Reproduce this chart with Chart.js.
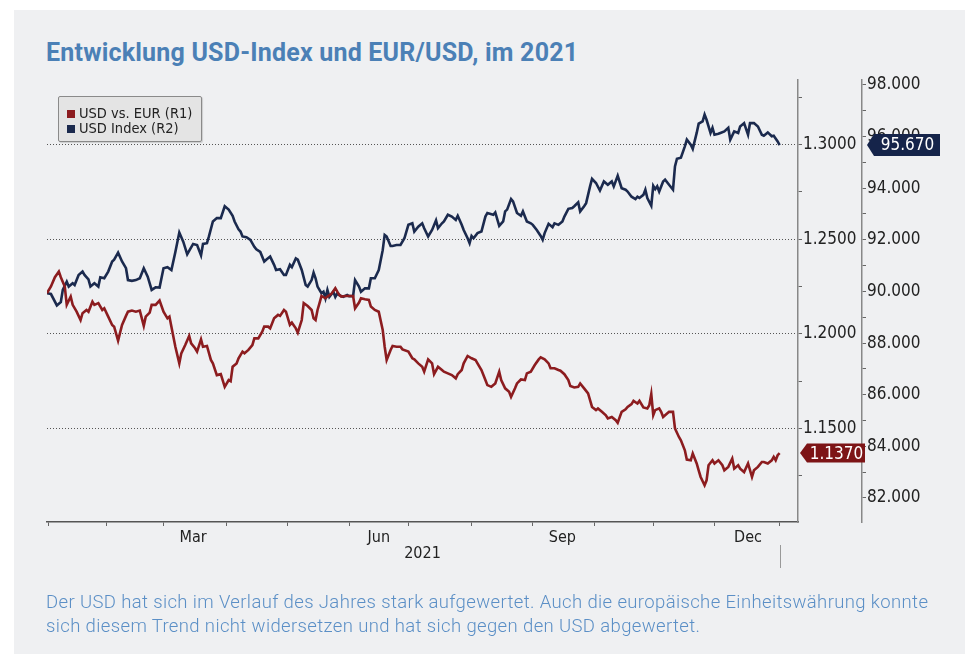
<!DOCTYPE html>
<html>
<head>
<meta charset="utf-8">
<script src="https://cdn.jsdelivr.net/npm/chart.js@4.4.1/dist/chart.umd.min.js"></script>
<style>
html, body { margin: 0; padding: 0; background: #fff; }
body { width: 965px; height: 654px; position: relative; overflow: hidden; }
.panel { position: absolute; left: 14px; top: 10px; right: 0; bottom: 0; background: #eff0f2; }
#chart { position: absolute; left: 0; top: 0; }
.title { position: absolute; left: 46px; top: 40px; font: bold 25px/25px Roboto, sans-serif; letter-spacing: 0.2px; color: #4b80b6; white-space: nowrap; }
.note { position: absolute; left: 46px; top: 590px; font: 300 18.5px/24px Roboto, sans-serif; letter-spacing: 0.37px; color: #5b8fc6; white-space: nowrap; }
.legend { position: absolute; left: 58px; top: 96px; width: 142px; height: 44px; background: #e4e4e4; border: 1px solid #8a8a8a; border-radius: 2px; box-shadow: 1px 1px 1px rgba(0,0,0,0.15); font: 14.5px/16px "DejaVu Sans Condensed", "DejaVu Sans", sans-serif; color: #222; }
.legend div { position: absolute; left: 8px; white-space: nowrap; }
.legend i { display: inline-block; width: 8px; height: 8px; margin-right: 4px; vertical-align: 0px; }
</style>
</head>
<body>
<div class="panel"></div>
<div class="title">Entwicklung USD-Index und EUR/USD, im 2021</div>
<canvas id="chart" width="965" height="654"></canvas>
<div class="legend">
  <div style="top:8px"><i style="background:#8c1c1f"></i>USD vs. EUR (R1)</div>
  <div style="top:23px"><i style="background:#1b2a4e"></i>USD Index (R2)</div>
</div>
<div class="note">Der USD hat sich im Verlauf des Jahres stark aufgewertet. Auch die europäische Einheitswährung konnte<br>sich diesem Trend nicht widersetzen und hat sich gegen den USD abgewertet.</div>
<script>
// x position = days on the chart's time axis
// --- USD vs. EUR (R1) ---
const eurDay = [0,2,4,6,7,9,10,12,13,15,17,18,20,21,23,24,26,28,29,31,33,34,36,38,40,41,43,45,47,49,50,52,53,55,57,59,61,62,63,65,67,68,70,72,73,75,76,78,79,81,83,84,86,88,90,92,93,94,96,97,99,100,102,104,105,107,109,110,112,113,115,117,118,120,121,123,124,126,127,129,130,132,134,135,136,137,138,139,141,142,144,146,147,148,149,151,153,155,156,158,159,161,163,164,166,168,170,171,172,174,175,177,179,180,183,185,186,188,190,191,193,195,196,198,200,201,203,205,207,208,210,211,213,215,217,218,220,222,223,225,227,229,230,232,234,235,237,238,240,242,243,245,247,249,250,252,254,255,257,259,260,262,264,265,267,269,270,272,274,275,276,278,279,281,283,284,286,288,289,291,293,294,296,297,299,300,302,304,305,306,307,308,310,311,312,314,315,317,318,320,321,323,324,326,327,329,330,331,333,334,335,337,338,340,342,343,345,347,348,350,351,353,355,357,358,360,362,363,365,367,368,369,370,371];
const eurUsd = [1.2215,1.2250,1.2299,1.2329,1.2299,1.2250,1.2153,1.2197,1.2153,1.2117,1.2073,1.2109,1.2126,1.2117,1.2170,1.2153,1.2162,1.2126,1.2135,1.2091,
  1.2047,1.2038,1.1964,1.2047,1.2095,1.2117,1.2123,1.2117,1.2123,1.2042,1.2091,1.2112,1.2153,1.2153,1.2176,1.2117,1.2082,1.2091,1.2038,1.1932,
  1.1844,1.1897,1.1941,1.1989,1.1950,1.1924,1.1906,1.1971,1.1932,1.1936,1.1862,1.1844,1.1782,1.1787,1.1720,1.1756,1.1750,1.1826,1.1844,1.1871,
  1.1906,1.1897,1.1915,1.1941,1.1976,1.1976,1.2011,1.2038,1.2038,1.2029,1.2082,1.2100,1.2095,1.2126,1.2117,1.2047,1.2059,1.2029,1.2006,1.2073,
  1.2162,1.2147,1.2126,1.2082,1.2073,1.2126,1.2162,1.2200,1.2188,1.2197,1.2211,1.2241,1.2223,1.2206,1.2197,1.2200,1.2200,1.2200,1.2135,1.2165,
  1.2188,1.2183,1.2179,1.2144,1.2126,1.2117,1.2020,1.1932,1.1862,1.1915,1.1936,1.1932,1.1932,1.1918,1.1906,1.1871,1.1865,1.1844,1.1826,1.1800,
  1.1865,1.1844,1.1787,1.1826,1.1809,1.1800,1.1791,1.1782,1.1765,1.1787,1.1809,1.1844,1.1883,1.1871,1.1862,1.1844,1.1809,1.1756,1.1729,1.1720,
  1.1738,1.1800,1.1756,1.1712,1.1694,1.1667,1.1712,1.1738,1.1759,1.1756,1.1791,1.1800,1.1835,1.1865,1.1876,1.1865,1.1844,1.1818,1.1818,1.1809,
  1.1805,1.1787,1.1756,1.1724,1.1717,1.1720,1.1738,1.1712,1.1685,1.1650,1.1614,1.1597,1.1606,1.1588,1.1570,1.1553,1.1561,1.1544,1.1530,1.1588,
  1.1601,1.1614,1.1629,1.1646,1.1632,1.1646,1.1611,1.1606,1.1623,1.1682,1.1570,1.1597,1.1606,1.1588,1.1561,1.1579,1.1588,1.1588,1.1500,1.1455,
  1.1438,1.1385,1.1336,1.1332,1.1368,1.1315,1.1279,1.1244,1.1200,1.1226,1.1306,1.1332,1.1315,1.1332,1.1306,1.1279,1.1297,1.1341,1.1288,1.1306,
  1.1288,1.1270,1.1315,1.1244,1.1279,1.1297,1.1323,1.1323,1.1315,1.1332,1.1350,1.1332,1.1359,1.1370];

// --- USD Index (R2) ---
const dxyDay = [0,2,5,7,8,10,11,13,14,16,18,19,21,22,24,26,27,29,31,33,34,36,38,40,41,43,45,47,49,51,53,55,57,59,61,63,65,67,69,71,74,76,78,79,81,82,84,86,88,90,92,94,95,97,98,99,101,103,105,106,108,110,111,113,115,116,118,120,121,123,124,126,127,129,131,132,134,135,136,137,139,140,141,142,143,145,146,147,148,150,152,153,155,156,158,159,161,163,164,166,168,170,171,172,174,175,177,179,181,183,185,186,188,190,191,193,195,197,198,200,201,203,205,207,208,210,211,213,214,215,216,218,220,222,223,226,227,229,231,232,233,235,236,238,240,241,243,245,246,248,250,251,252,254,256,257,259,261,262,264,266,267,269,270,272,273,275,276,278,280,282,284,286,287,289,291,293,294,296,298,299,300,302,303,304,306,307,308,309,310,312,313,315,317,318,319,321,323,324,326,327,329,330,332,333,334,336,337,338,340,341,343,345,346,348,350,351,353,355,356,358,360,362,363,365,367,368,370,371];
const dxyIdx = [89.93,89.90,89.46,89.59,90.06,90.38,90.19,90.32,90.25,90.64,90.77,90.64,90.47,90.19,90.32,90.19,90.55,90.51,90.77,91.16,
  91.23,91.50,91.16,90.90,90.44,90.41,90.44,90.51,90.90,90.57,90.06,90.16,90.15,90.90,90.94,90.83,91.53,92.28,91.93,91.44,
  91.84,91.80,91.40,91.84,91.87,92.13,92.71,92.84,92.84,93.30,93.17,92.93,92.71,92.41,92.32,92.13,92.10,92.00,91.73,91.63,
  91.53,91.16,91.23,91.35,91.03,90.83,90.86,90.64,90.64,91.03,90.94,91.28,91.23,90.83,90.25,90.19,90.44,90.73,90.51,90.19,
  89.93,89.99,89.73,90.06,89.79,89.99,89.79,89.93,89.86,89.79,89.86,89.82,89.82,90.44,90.19,89.99,90.12,90.12,90.51,90.51,
  90.83,91.60,92.19,92.13,91.76,91.76,91.80,91.80,92.06,92.58,92.64,92.32,92.51,92.64,92.45,92.13,92.38,92.75,92.45,92.64,
  92.71,92.97,92.90,92.77,92.93,92.58,92.38,92.06,91.87,92.15,92.06,92.26,92.32,92.90,93.04,92.97,93.06,92.54,92.71,93.10,
  93.17,93.58,93.49,93.04,92.93,93.10,92.71,92.64,92.58,92.38,92.15,92.00,92.26,92.62,92.49,92.64,92.58,92.71,92.90,93.20,
  93.23,93.30,93.45,93.10,93.30,93.42,94.07,94.36,94.20,93.91,94.26,94.13,94.26,94.07,94.48,94.00,93.94,93.87,93.67,93.58,
  93.67,93.62,93.74,93.94,93.62,93.32,94.09,93.96,94.07,93.87,94.26,94.33,94.13,93.94,94.84,95.14,95.18,95.62,95.88,95.68,
  95.52,96.14,96.50,96.59,96.85,96.65,96.14,96.34,96.07,96.11,96.14,96.20,96.34,95.88,96.20,96.14,96.39,96.52,96.07,96.52,
  96.52,96.39,96.07,96.03,96.16,96.01,96.03,95.81,95.67];

// axis ticks (same day units)
const monthTicks = [1, 30, 59, 91, 122, 153, 183, 215, 246, 277, 307, 338, 371];
const monthLabelDays = [74, 168, 261, 355];
const monthLabels = ['Mar', 'Jun', 'Sep', 'Dec'];
const xTicks = monthTicks.concat(monthLabelDays).sort((a, b) => a - b);

const RED = '#8c1c1f';
const NAVY = '#1b2a4e';
const axisFont = { family: '"DejaVu Sans Condensed", "DejaVu Sans", sans-serif', size: 17 };

const isMajor = (v, step) => Math.abs(v / step - Math.round(v / step)) < 1e-6;

// last value flags + end marker under the x axis
const lastFlags = {
    id: 'lastFlags',
    afterDraw(chart) {
        const { ctx, scales } = chart;
        const flag = (x, y, w, h, color, text) => {
            ctx.save();
            ctx.fillStyle = color;
            ctx.beginPath();
            ctx.moveTo(x, y);
            ctx.lineTo(x + 7, y - h / 2);
            ctx.lineTo(x + w, y - h / 2);
            ctx.lineTo(x + w, y + h / 2);
            ctx.lineTo(x + 7, y + h / 2);
            ctx.closePath();
            ctx.fill();
            ctx.fillStyle = '#fff';
            ctx.font = '17px "DejaVu Sans Condensed", "DejaVu Sans", sans-serif';
            ctx.textAlign = 'center';
            ctx.textBaseline = 'middle';
            ctx.fillText(text, x + 4 + w / 2, y + 1);
            ctx.restore();
        };
        const eurLast = eurUsd[eurUsd.length - 1];
        const dxyLast = dxyIdx[dxyIdx.length - 1];
        flag(scales.y1.left + 2, scales.y1.getPixelForValue(eurLast), 65, 19, '#7d1416', eurLast.toFixed(4));
        flag(scales.y2.left + 5, scales.y2.getPixelForValue(dxyLast), 73, 22, '#15244a', dxyLast.toFixed(3));

        const xe = Math.round(scales.x.getPixelForValue(eurDay[eurDay.length - 1])) + 0.5;
        ctx.save();
        ctx.strokeStyle = '#999';
        ctx.lineWidth = 1;
        ctx.beginPath();
        ctx.moveTo(xe, 545);
        ctx.lineTo(xe, 568);
        ctx.stroke();
        ctx.restore();
    }
};

new Chart(document.getElementById('chart'), {
    type: 'line',
    data: {
        datasets: [
            { label: 'USD vs. EUR (R1)', data: eurDay.map((d, i) => ({ x: d, y: eurUsd[i] })), yAxisID: 'y1',
              borderColor: RED, borderWidth: 2.6, pointRadius: 0, tension: 0 },
            { label: 'USD Index (R2)', data: dxyDay.map((d, i) => ({ x: d, y: dxyIdx[i] })), yAxisID: 'y2',
              borderColor: NAVY, borderWidth: 2.6, pointRadius: 0, tension: 0 }
        ]
    },
    options: {
        responsive: false,
        animation: false,
        devicePixelRatio: 1,
        layout: { padding: { left: 47, top: 80, right: 33, bottom: 88 } },
        plugins: { legend: { display: false }, tooltip: { enabled: false } },
        scales: {
            x: {
                type: 'linear', min: 0, max: 380.3,
                afterBuildTicks: axis => { axis.ticks = xTicks.map(v => ({ value: v })); },
                afterFit: s => { s.height = 44; },
                ticks: {
                    autoSkip: false, maxRotation: 0, padding: 2, color: '#222',
                    font: { family: axisFont.family, size: 16 },
                    callback: v => { const k = monthLabelDays.indexOf(v); return k >= 0 ? monthLabels[k] : ''; }
                },
                grid: {
                    drawOnChartArea: false, tickLength: 4, tickWidth: 1,
                    tickColor: c => monthLabelDays.includes(c.tick && c.tick.value) ? 'transparent' : '#666'
                },
                border: { color: '#555', width: 1.5 },
                title: { display: true, text: '2021', color: '#222', font: { family: axisFont.family, size: 16 }, padding: { top: 0, bottom: 3 } }
            },
            y1: {
                position: 'right', weight: 0,
                min: 1.1006, max: 1.3341,
                afterFit: s => { s.width = 64; },
                ticks: {
                    stepSize: 0.025, includeBounds: false, autoSkip: false, padding: 1, color: '#222', font: axisFont,
                    callback: v => isMajor(v, 0.05) ? v.toFixed(4) : ''
                },
                grid: {
                    tickLength: 4, tickWidth: 1, tickColor: '#666', lineWidth: 1,
                    color: c => (c.tick && isMajor(c.tick.value, 0.05)) ? '#555' : 'transparent'
                },
                border: { color: '#888', width: 1.5, dash: [1, 2] }
            },
            y2: {
                position: 'right', weight: 1,
                min: 81.07, max: 98.19,
                afterFit: s => { s.width = 70; },
                ticks: {
                    stepSize: 1, includeBounds: false, autoSkip: false, padding: 1, color: '#222', font: axisFont,
                    callback: v => isMajor(v, 2) ? v.toFixed(3) : ''
                },
                grid: { drawOnChartArea: false, tickLength: 4, tickWidth: 1, tickColor: '#666' },
                border: { color: '#888', width: 1.5 }
            }
        }
    },
    plugins: [lastFlags]
});
</script>
</body>
</html>
